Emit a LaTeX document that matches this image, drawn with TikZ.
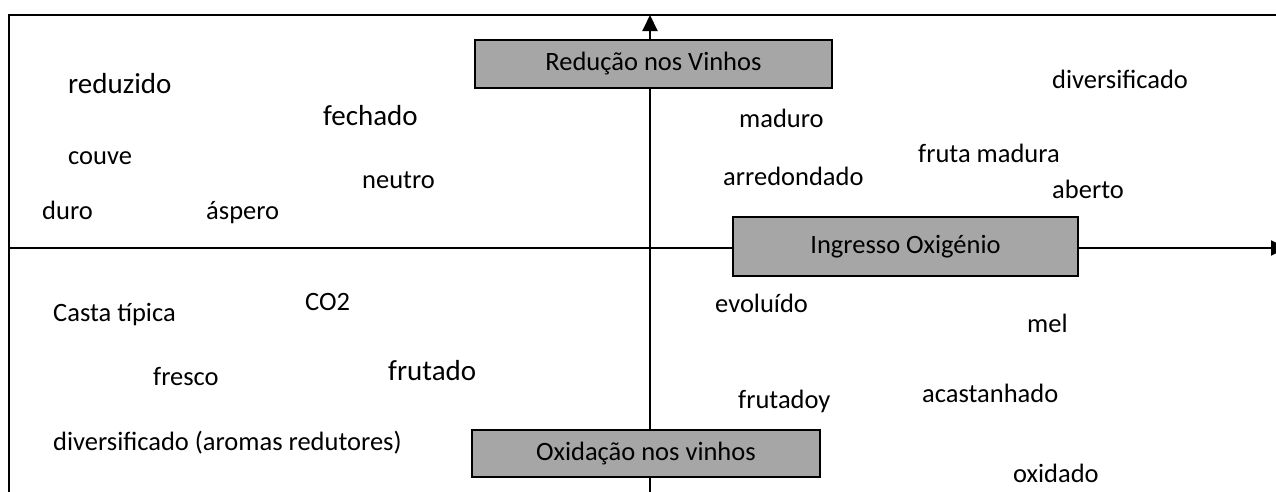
\documentclass[tikz,border=0pt]{standalone}
\usepackage{fontspec}
\setmainfont{Carlito}
\usetikzlibrary{arrows.meta}
\definecolor{boxgray}{HTML}{A6A6A6}
\tikzset{
  axis/.style={line width=2pt, draw=black},
  frame/.style={line width=2pt, draw=black},
  axisarrow/.style={axis, -{Triangle[length=16pt,width=15pt]}},
  graybox/.style={draw=black, line width=2pt, fill=boxgray, inner sep=0pt,
    font=\fontsize{26.5}{30}\selectfont},
  word/.style={inner sep=0pt, anchor=base west, font=\fontsize{26.5}{30}\selectfont},
  bigword/.style={inner sep=0pt, anchor=base west, font=\fontsize{29}{33}\selectfont},
}
\begin{document}
\begin{tikzpicture}[x=1pt,y=-1pt]
\useasboundingbox (0,0) rectangle (1276,491);
% frame
\coordinate (fbl) at (9,495);
\coordinate (ftl) at (9,15);
\coordinate (ftr) at (1280,15);
\draw[frame] (fbl) -- (ftl) -- (ftr);
% axes
\coordinate (hstart) at (9,248);
\coordinate (hend) at (1287,248);
\coordinate (vstart) at (650,495);
\coordinate (vend) at (650,15);
\draw[axisarrow] (hstart) -- (hend);
\draw[axisarrow] (vstart) -- (vend);
% boxes
\node[graybox, minimum width=357pt, minimum height=48pt] (reducao) at (653.5,64) {Redução nos Vinhos};
\node[graybox, minimum width=345pt, minimum height=59pt] (ingresso) at (905.5,246.5) {Ingresso Oxigénio};
\node[graybox, minimum width=348pt, minimum height=47pt] (oxidacao) at (646,453.5) {Oxidação nos vinhos};
% words upper left
\node[bigword] (w1) at (68,93) {reduzido};
\node[bigword] (w2) at (323,125) {fechado};
\node[word] (w3) at (68,164) {couve};
\node[word] (w4) at (362,188) {neutro};
\node[word] (w5) at (42,219) {duro};
\node[word] (w6) at (206,219) {áspero};
% upper right
\node[word] (w7) at (739,127) {maduro};
\node[word] (w8) at (723,185) {arredondado};
\node[word] (w9) at (1052,88) {diversificado};
\node[word] (w10) at (918,162) {fruta madura};
\node[word] (w11) at (1052,198) {aberto};
% lower left
\node[word] (w12) at (53,321) {Casta típica};
\node[word] (w13) at (305,310) {CO2};
\node[word] (w14) at (153,385) {fresco};
\node[bigword] (w15) at (388,380) {frutado};
\node[word] (w16) at (53,450) {diversificado (aromas redutores)};
% lower right
\node[word] (w17) at (715,312) {evoluído};
\node[word] (w18) at (1027,332) {mel};
\node[word] (w19) at (738,408) {frutadoy};
\node[word] (w20) at (922,402) {acastanhado};
\node[word] (w21) at (1013,482) {oxidado};
\end{tikzpicture}
\end{document}
